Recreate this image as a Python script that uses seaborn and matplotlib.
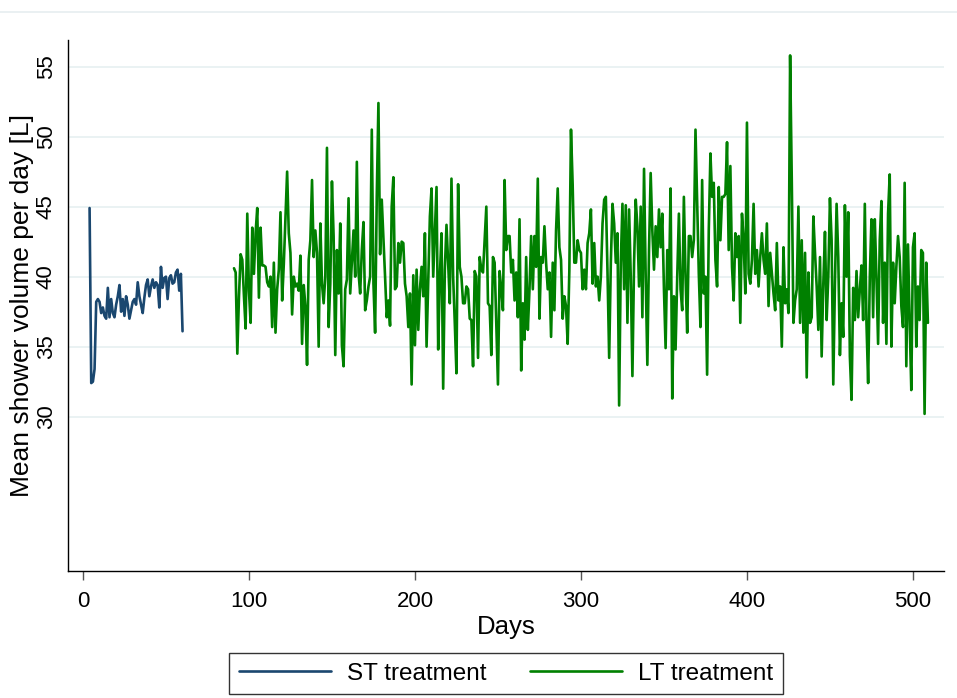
import numpy as np
import pandas as pd
import matplotlib
matplotlib.use("Agg")
import matplotlib.pyplot as plt
from matplotlib.lines import Line2D
import seaborn as sns

sns.set_style("white")
plt.rcParams['font.family'] = ['Liberation Sans', 'DejaVu Sans']
plt.rcParams['text.color'] = 'black'
plt.rcParams['axes.labelcolor'] = 'black'
plt.rcParams['xtick.color'] = 'black'
plt.rcParams['ytick.color'] = 'black'

# short-term treatment, one value per day starting on day 4
st_start = 4
st_volume = [44.9, 32.4, 32.5, 33.4, 38.2, 38.4, 38.2, 37.4, 37.8, 37.2,
             37.0, 39.2, 37.1, 38.4, 37.4, 37.1, 38.0, 38.6, 39.4, 37.5,
             38.4, 37.2, 38.6, 38.0, 37.0, 37.6, 38.2, 38.4, 38.0, 39.6,
             38.6, 38.0, 37.4, 38.5, 39.4, 39.8, 38.6, 39.3, 39.8, 39.2,
             39.6, 39.4, 37.8, 40.7, 39.2, 39.9, 40.0, 38.4, 39.9, 40.1,
             39.5, 39.6, 40.3, 40.5, 39.0, 40.2, 36.1]

# long-term treatment, one value per day starting on day 91
lt_start = 91
lt_volume_a = [40.6, 40.3, 34.5, 38.6, 41.6, 41.2, 38.6, 36.3, 44.5, 39.0,
               36.7, 43.5, 40.2, 43.1, 44.9, 38.5, 43.5, 40.8, 40.8, 40.7,
               39.6, 39.3, 40.0, 36.4, 41.0, 36.0, 39.1, 40.5, 44.6, 38.3,
               40.9, 44.3, 47.5, 43.1, 41.7, 37.3, 40.0, 39.3, 39.5, 39.0,
               41.5, 35.2, 39.4, 37.9, 33.7, 41.2, 42.6, 46.9, 41.4, 43.3,
               41.7, 35.0, 43.8, 39.5, 38.1, 40.0, 49.2, 36.4, 39.5, 46.8,
               42.9, 34.4, 41.9, 38.8, 43.8, 35.1, 33.6]
lt_volume_b = [39.1, 39.8, 45.6, 38.8, 41.0, 43.3, 40.0, 48.2, 40.3, 38.8,
               41.9, 43.9, 37.6, 38.3, 39.3, 40.0, 50.5, 39.5, 36.0, 45.7,
               52.4, 41.6, 45.5, 42.8, 40.0, 37.1, 38.3, 36.5, 45.0, 47.1,
               39.1, 39.3, 42.4, 41.0, 42.5, 42.4, 39.5, 38.6, 36.4, 38.8,
               32.3, 40.1, 35.1, 40.5, 36.2, 39.1, 40.7, 38.6, 43.1, 35.0,
               39.5, 44.3, 46.3, 40.0, 43.1, 46.4, 34.8, 40.0, 43.1, 32.0,
               40.5, 43.7, 41.0, 38.1, 47.0, 40.0, 36.7, 33.1, 46.6]
lt_volume_c = [40.7, 40.0, 38.1, 38.1, 39.3, 39.1, 37.0, 36.9, 33.6, 40.4,
               40.0, 34.2, 41.4, 40.5, 40.3, 42.6, 45.0, 38.1, 37.9, 34.4,
               41.4, 41.0, 36.7, 32.3, 40.4, 39.1, 37.6, 46.9, 41.9, 42.9,
               42.9, 40.3, 41.2, 38.3, 40.3, 37.1, 44.1, 33.3, 38.1, 35.5,
               41.4, 36.2, 39.1, 42.9, 39.1, 42.9, 40.7, 47.0, 37.0, 41.4,
               41.0, 43.6, 41.0, 39.1, 40.3, 35.7, 41.0, 37.6, 43.3, 46.3,
               42.1, 41.2, 37.0, 38.6, 37.9, 35.2, 40.4, 50.5, 46.6, 41.0]
lt_volume_d = [41.0, 42.6, 41.9, 41.7, 39.1, 40.5, 39.1, 42.4, 43.1, 44.8,
               39.5, 42.4, 39.3, 40.0, 38.3, 40.0, 43.8, 45.5, 45.7, 40.3,
               34.2, 41.0, 45.2, 43.8, 41.0, 43.1, 30.8, 41.0, 45.2, 39.1,
               45.1, 36.7, 44.8, 40.0, 32.9, 41.0, 45.5, 43.6, 39.3, 45.0,
               37.1, 47.7, 40.0, 33.7, 41.9, 47.4, 43.3, 40.5, 43.6, 41.4,
               44.8, 42.1, 44.5, 39.1, 34.9, 41.9, 39.1, 46.3, 31.3, 38.6,
               34.8, 40.0, 44.5, 39.1, 37.6, 45.7, 40.0, 36.0, 42.9]
lt_volume_e = [42.9, 41.4, 42.6, 50.5, 45.2, 40.2, 36.4, 46.9, 38.8, 40.0,
               33.0, 43.3, 48.8, 45.7, 46.7, 41.2, 39.3, 46.4, 42.6, 45.7,
               45.7, 45.9, 49.6, 41.9, 47.9, 40.7, 38.3, 43.1, 41.4, 42.9,
               36.7, 44.5, 42.6, 38.8, 51.0, 40.2, 39.5, 41.2, 45.2, 40.2,
               41.9, 39.3, 41.4, 43.1, 41.2, 40.2, 43.8, 37.9, 41.7, 40.2,
               38.8, 37.6, 42.4, 38.3, 39.3, 35.0, 42.1, 38.1, 39.1, 37.4,
               55.8, 46.9, 36.7, 38.3, 39.1, 45.0, 36.7, 42.6, 36.0, 41.7]
lt_volume_f = [32.8, 40.3, 36.7, 37.1, 44.3, 41.7, 39.3, 36.2, 41.4, 34.3,
               39.5, 43.2, 36.9, 40.0, 45.6, 42.6, 32.3, 39.5, 45.2, 41.4,
               34.4, 38.1, 35.7, 45.1, 40.0, 44.6, 34.3, 31.2, 39.2, 36.9,
               40.4, 37.1, 39.1, 40.8, 36.9, 45.2, 36.7, 32.4, 40.0, 44.1,
               37.1, 44.1, 40.0, 35.2, 42.6, 45.4, 36.7, 41.0, 35.2, 44.5,
               47.3, 35.0, 41.0, 38.1, 40.7, 42.9, 41.4, 37.9, 36.4, 46.7,
               33.6, 42.3, 36.9, 31.9, 42.1, 43.1, 35.0, 39.3, 36.9, 41.9,
               41.7, 30.2, 41.0, 36.7]
lt_volume = lt_volume_a + lt_volume_b + lt_volume_c + lt_volume_d + lt_volume_e + lt_volume_f

labels = ["ST treatment", "LT treatment"]
colors = {"ST treatment": "#1a476f", "LT treatment": "#008000"}

st = pd.DataFrame({"day": np.arange(st_start, st_start + len(st_volume)),
                   "volume": st_volume, "group": labels[0]})
lt = pd.DataFrame({"day": np.arange(lt_start, lt_start + len(lt_volume)),
                   "volume": lt_volume, "group": labels[1]})
df = pd.concat([st, lt], ignore_index=True)

fig = plt.figure(figsize=(9.57, 6.98), dpi=100)
ax = fig.add_axes([68 / 957, 1 - 571 / 698, 876 / 957, 531 / 698])

sns.lineplot(data=df, x="day", y="volume", hue="group", palette=colors,
             estimator=None, linewidth=1.9, ax=ax, legend=False)

ax.set_xlim(-9, 518.7)
ax.set_ylim(18.98, 56.9)
ax.set_xticks([0, 100, 200, 300, 400, 500])
ax.set_yticks([30, 35, 40, 45, 50, 55])
ax.yaxis.grid(True, color="#eaf2f3", linewidth=1.4)
ax.set_axisbelow(True)

for s in ["top", "right"]:
    ax.spines[s].set_visible(False)
for s in ["left", "bottom"]:
    ax.spines[s].set_color("black")
    ax.spines[s].set_linewidth(1.0)

ax.tick_params(axis="x", length=6.5, width=1.0, color="#555555", pad=8, labelsize=16, direction="out", bottom=True)
ax.tick_params(axis="y", length=0, pad=8, labelsize=16, labelrotation=90, left=True)
for t in ax.get_yticklabels():
    t.set_va("center")

ax.set_xlabel("Days", fontsize=18.5, labelpad=2)
ax.set_ylabel("Mean shower volume per day [L]", fontsize=19, labelpad=1)

handles = [Line2D([], [], color=colors[l], linewidth=1.9) for l in labels]
leg = ax.legend(handles, labels, loc="upper center", bbox_to_anchor=(0.5, -0.1545),
                ncol=2, fontsize=17.5, frameon=True, fancybox=False, edgecolor="black",
                handlelength=3.8, handletextpad=0.65, columnspacing=1.8,
                borderaxespad=0, borderpad=0.4)
leg.get_frame().set_linewidth(1.0)

fig.add_artist(Line2D([0, 1], [1 - 12 / 698, 1 - 12 / 698], color="#e6eef0", linewidth=1.2))

fig.savefig("out.png", dpi=100)
